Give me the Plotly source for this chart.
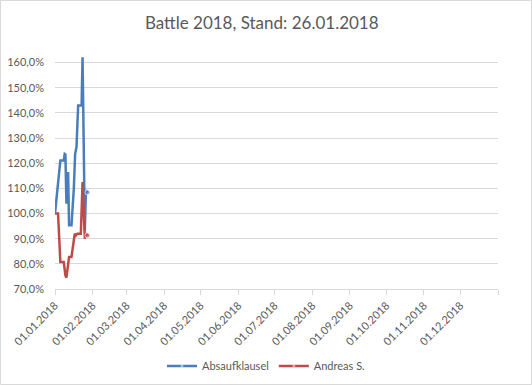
import plotly.graph_objects as go

# Data (values in percent)
dates_blue = ["2018-01-01", "2018-01-05 10:00", "2018-01-08 05:00", "2018-01-09 00:00",
              "2018-01-09 14:00", "2018-01-10 10:00", "2018-01-11 19:00", "2018-01-12 14:00",
              "2018-01-14 14:00", "2018-01-16 12:00", "2018-01-17 14:00", "2018-01-18 17:00",
              "2018-01-20 02:00", "2018-01-22 22:00", "2018-01-23 17:00", "2018-01-24 05:00",
              "2018-01-25 14:00", "2018-01-26 12:00", "2018-01-27 19:00"]
absaufklausel = [100.0, 121.1, 121.1, 123.7, 123.5, 103.9, 116.5, 95.3, 95.3, 109.8,
                 123.7, 126.4, 142.9, 142.9, 162.1, 142.9, 93.3, 109.2, 108.4]

dates_red = ["2018-01-01", "2018-01-03 12:00", "2018-01-05 10:00", "2018-01-08 05:00",
             "2018-01-09 14:00", "2018-01-10 10:00", "2018-01-12 14:00", "2018-01-14 14:00",
             "2018-01-17 07:00", "2018-01-18 05:00", "2018-01-19 12:00", "2018-01-22 07:00",
             "2018-01-23 17:00", "2018-01-25 14:00", "2018-01-26 12:00", "2018-01-27 19:00"]
andreas = [100.0, 100.0, 80.7, 80.7, 75.4, 74.5, 82.7, 82.7, 92.0, 91.3, 92.0, 92.0,
           112.5, 90.0, 92.0, 91.3]

tick_dates = ["2018-01-01", "2018-02-01", "2018-03-01", "2018-04-01", "2018-05-01",
              "2018-06-01", "2018-07-01", "2018-08-01", "2018-09-01", "2018-10-01",
              "2018-11-01", "2018-12-01", "2019-01-01"]
tick_labels = ["01.01.2018", "01.02.2018", "01.03.2018", "01.04.2018", "01.05.2018",
               "01.06.2018", "01.07.2018", "01.08.2018", "01.09.2018", "01.10.2018",
               "01.11.2018", "01.12.2018", ""]
y_ticks = [70, 80, 90, 100, 110, 120, 130, 140, 150, 160]
y_tick_labels = ["70,0%", "80,0%", "90,0%", "100,0%", "110,0%", "120,0%", "130,0%",
                 "140,0%", "150,0%", "160,0%"]

BLUE = "#4a7ebb"
RED = "#be4b48"
GREY_TXT = "#595959"
GRID = "#d9d9d9"
FONT = "Lato, Open Sans, sans-serif"

def sizes(n):
    return [0] * (n - 1) + [5]

fig = go.Figure()
fig.add_trace(go.Scatter(x=dates_blue, y=absaufklausel, name="Absaufklausel",
                         mode="lines+markers", line=dict(color=BLUE, width=2.5),
                         marker=dict(color=BLUE, size=sizes(len(absaufklausel))),
                         cliponaxis=False))
fig.add_trace(go.Scatter(x=dates_red, y=andreas, name="Andreas S.",
                         mode="lines+markers", line=dict(color=RED, width=2.5),
                         marker=dict(color=RED, size=sizes(len(andreas))),
                         cliponaxis=False))

fig.update_layout(
    width=532, height=385,
    margin=dict(l=55, r=34, t=55, b=96, autoexpand=False),
    paper_bgcolor="white", plot_bgcolor="white",
    font=dict(family=FONT, size=11, color=GREY_TXT),
    title=dict(text="Battle 2018, Stand: 26.01.2018", x=0.492, xanchor="center",
               y=1 - 23 / 385, yanchor="middle",
               font=dict(family=FONT, size=17, color=GREY_TXT)),
    showlegend=True,
    legend=dict(orientation="h", xref="container", yref="container",
                x=0.5, xanchor="center", y=1 - 366 / 385, yanchor="middle",
                font=dict(family=FONT, size=11, color=GREY_TXT), itemwidth=30),
    xaxis=dict(type="date", range=["2018-01-01", "2019-01-01"], automargin=False,
               tickmode="array", tickvals=tick_dates, ticktext=tick_labels,
               tickangle=-45, showgrid=False, showline=True, linecolor=GRID,
               linewidth=1, ticks="outside", ticklen=5, tickcolor=GRID,
               tickfont=dict(family=FONT, size=11, color=GREY_TXT), zeroline=False),
    yaxis=dict(range=[70, 163], tickmode="array", tickvals=y_ticks,
               ticktext=y_tick_labels, automargin=False,
               showgrid=True, gridcolor=GRID, gridwidth=1, zeroline=False,
               showline=False, ticks="", ticklabelstandoff=10,
               tickfont=dict(family=FONT, size=11, color=GREY_TXT)),
    shapes=[dict(type="rect", xref="paper", yref="paper",
                 x0=-54.5 / 443, x1=1 + 33.5 / 443,
                 y0=-95.5 / 234, y1=1 + 54.5 / 234,
                 line=dict(color=GRID, width=1), fillcolor="rgba(0,0,0,0)",
                 layer="below")],
)

fig.write_html("out.html", config={"displayModeBar": False},
               post_script="document.body.style.margin='0';document.body.style.overflow='hidden';")
